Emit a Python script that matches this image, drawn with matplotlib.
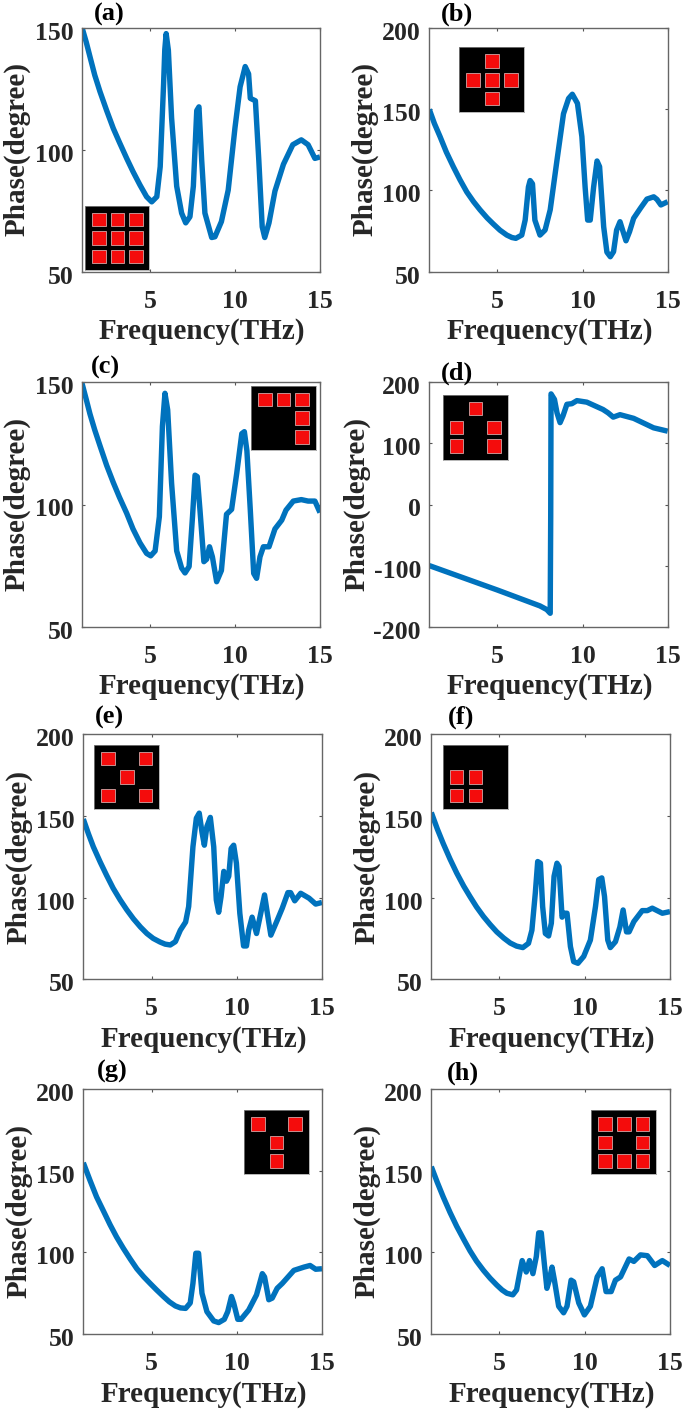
import matplotlib
matplotlib.use("Agg")
import matplotlib.pyplot as plt
from matplotlib.patches import Rectangle
from matplotlib.transforms import ScaledTranslation

W, H = 685, 1409
LINE = "#0072BD"
TXT = "#262626"
plt.rcParams['font.family'] = ['Liberation Serif', 'DejaVu Serif']
plt.rcParams['font.weight'] = 'bold'
plt.rcParams['axes.unicode_minus'] = False

fa = [1,1.25,1.47,1.75,2.06,2.45,2.84,3.2,3.63,4,4.41,4.8,5.1,5.4,5.6,5.8,5.87,5.95,6.08,6.27,6.57,6.86,7.1,7.35,7.55,7.75,7.88,8.04,8.23,8.63,8.82,9.2,9.6,10,10.3,10.6,10.8,10.9,11.2,11.4,11.6,11.75,12,12.35,12.85,13.4,13.9,14.3,14.7,15]
pa = [150,144,138,130.5,123.7,116,108.7,103,96.4,91,85.5,80.7,78.6,80.7,93,127,141,147.5,140.7,113,85,74,70,72.5,85,116,117.5,95.7,74,64,64.3,70.5,83.4,109,125.7,134,131,121,120,95.7,68.4,64,70,83,94,102,104,102,96.4,97]

fb = [1,1.3,1.63,2,2.41,2.8,3.2,3.6,3.98,4.4,4.76,5.15,5.55,5.85,6.08,6.43,6.63,6.82,6.92,7.06,7.2,7.5,7.8,8.1,8.5,8.88,9.18,9.4,9.7,9.96,10.15,10.3,10.45,10.65,10.85,11,11.24,11.43,11.63,11.82,12,12.2,12.35,12.55,12.76,13,13.4,13.78,14.18,14.37,14.6,15]
pb = [149.7,141,133,123.5,114.5,106.5,99,93,88,83,79.3,75.5,72.5,71,70.5,72.5,81.7,102,106,104,81.7,72.5,75.6,88,118.6,147,156.4,159,153.4,133,102,81.7,81.7,102,118,114.5,77.6,62,59.2,62.3,75.6,80.7,75.6,69,74.6,82.8,89,94.6,96,94.4,91,93]

fc = [1,1.25,1.47,1.75,2.06,2.45,2.84,3.2,3.63,4,4.41,4.8,5.04,5.3,5.55,5.73,5.88,6.04,6.27,6.57,6.86,7.06,7.3,7.5,7.65,7.78,7.94,8.17,8.33,8.5,8.67,8.92,9.2,9.5,9.8,10.1,10.4,10.55,10.7,10.9,11.1,11.27,11.47,11.67,12,12.35,12.75,13,13.43,13.9,14.3,14.7,15]
pc = [149.6,143,137,130.5,124,116,109,103,96.4,90,84.3,80,79,81,95,132,145.5,138.7,108.7,81,74,72,74.6,95,112,111.4,97.7,76.6,77.6,82.7,78.6,68.4,73,96,98,112.7,129,129.8,122,97.7,71.8,69.8,78.6,82.7,82.7,90,93.6,97.7,101.4,102,101.4,101.4,96.7]

fd = [1,3,5,7.5,7.9,8.1,8.13,8.15,8.35,8.5,8.68,8.85,9.08,9.37,9.67,10.25,11.2,11.5,11.8,12.2,13,14.17,15]
pd_ = [-100,-120,-140,-166,-172,-178,-19,181,172,150,134,145,164,165,170,167.5,155.5,150,143,147,141,125.5,120]

fe = [1,1.3,1.59,2,2.37,2.75,3.16,3.55,3.94,4.35,4.73,5.1,5.5,5.8,6.1,6.4,6.69,7,7.18,7.43,7.63,7.8,7.96,8.1,8.25,8.45,8.65,8.8,8.94,9.08,9.24,9.4,9.53,9.67,9.82,9.98,10.18,10.4,10.57,10.7,10.9,11.16,11.4,11.63,11.8,12,12.37,12.67,13,13.16,13.4,13.75,14.24,14.63,15]
pe = [148,139,131,121.5,113.5,105.7,98.6,92.5,87,82,78,75,72.8,71.5,71,73,80,85,94.5,131,148.5,151.6,140,132,143.5,149,131,98.6,91,100.6,116,110,113,130,132,121,90.4,70.4,70.4,80,88,78,90,101.6,90,77,86,93.5,103,103,98,102.6,99.6,96,97]

ff = [1,1.35,1.7,2.1,2.49,2.9,3.27,3.65,4.06,4.45,4.84,5.25,5.63,6,6.37,6.7,6.9,7.1,7.24,7.4,7.53,7.69,7.88,8.04,8.2,8.37,8.49,8.67,8.8,8.96,9.16,9.35,9.6,9.94,10.33,10.63,10.82,11,11.16,11.35,11.5,11.8,12.06,12.25,12.45,12.6,12.88,13.37,13.67,13.96,14.55,15]
pf = [152,142,133,123.5,115,107,100.6,94.3,88.4,83.5,79,75.2,72.2,70.3,69.4,72,80,102.7,122,121,94.5,78,76.5,84.3,113,121,119,88,90.4,90.4,70,60.8,59.8,64,74,94.5,111,112,100.6,74,69.4,73,82,92.4,79,79,85.3,92,92,93.5,90.4,91.4]

fg = [1,1.4,1.78,2.2,2.57,2.95,3.35,3.75,4.14,4.55,4.92,5.3,5.7,6.05,6.4,6.7,7,7.27,7.43,7.6,7.76,7.96,8.25,8.65,8.94,9.27,9.47,9.69,9.82,10.06,10.25,10.7,11.16,11.5,11.63,11.88,12.08,12.37,12.67,13.35,13.94,14.3,14.63,15]
pg = [155,144,134,125,117,109.5,102.5,96,90,85,81,77,73,69.7,67.2,66,65.7,69,81,99.5,99.5,75,63.7,58,57,59,63.7,73,69,59,59,64.7,74,87,85,71,72,78,81,89,91,92,89.7,90]

fh = [1,1.35,1.7,2.1,2.49,2.9,3.27,3.65,4.06,4.45,4.84,5.15,5.43,5.78,6,6.18,6.33,6.57,6.76,6.96,7.16,7.3,7.45,7.63,7.78,7.92,8.08,8.22,8.47,8.76,8.96,9.2,9.35,9.65,9.98,10.33,10.73,11.02,11.25,11.55,11.8,12.1,12.6,12.88,13.27,13.67,14.1,14.55,15]
ph = [152.6,143,134,124.5,116,108,101,94.7,89,84.2,80,77,75,74,77,87,95,88,95,87,97.5,112,112,93,78,83,91,83,67,63,67,83,82,69,61.7,67,85,90,76,76,83,85,96,94.5,98.5,98,92,95,92]

names = ['(a)','(b)','(c)','(d)','(e)','(f)','(g)','(h)']
freqs = [fa,fb,fc,fd,fe,ff,fg,fh]
phases = [pa,pb,pc,pd_,pe,pf,pg,ph]
yticks = [[50,100,150],[50,100,150,200],[50,100,150],[-200,-100,0,100,200],
          [50,100,150,200],[50,100,150,200],[50,100,150,200],[50,100,150,200]]
all9 = [(c,r) for r in range(3) for c in range(3)]
cells = [all9,
         [(1,0),(0,1),(1,1),(2,1),(1,2)],
         [(0,0),(1,0),(2,0),(2,1),(2,2)],
         [(1,0),(0,1),(2,1),(0,2),(2,2)],
         [(0,0),(2,0),(1,1),(0,2),(2,2)],
         [(0,1),(1,1),(0,2),(1,2)],
         [(0,0),(2,0),(1,1),(1,2)],
         [c for c in all9 if c != (1,1)]]
# layout in pixels: left, right, top, bottom
boxes = [(82,320,27.5,271.7),(429.3,667.7,27.5,271.7),(82,320,382.3,626.7),(429.3,667.7,382.3,626.7),
         (83.3,322,734,979.3),(431.3,670,734,979.3),(83.3,322,1089.3,1334),(431.3,670,1089.3,1334)]
insets = [(85,149.3,206,270),(459.3,524.3,47.3,112),(250.7,316,385.7,450.3),(442.7,507.7,394.7,459.7),
          (94.3,159,744.7,809),(442.7,507.7,744.7,809),(243.7,308.7,1110,1174.3),(591.3,656,1110,1174.3)]
ylab_xy = [(17,149),(365,149),(17,504),(357,504),(19,857),(367,857),(19,1211),(367,1211)]
name_xy = [(109,14),(457,14),(105,367),(457,373),(109,717),(461,717),(112,1071),(463,1073)]

fig = plt.figure(figsize=(W/100, H/100), dpi=100)

def fx(p): return p/W
def fy(p): return 1-p/H

for i in range(8):
    l,r,t,b = boxes[i]
    ax = fig.add_axes([fx(l), fy(b), (r-l)/W, (b-t)/H])
    ax.plot(freqs[i], phases[i], color=LINE, lw=3.9, solid_joinstyle='round', solid_capstyle='butt')
    ax.set_xlim(1,15)
    ax.set_ylim(yticks[i][0], yticks[i][-1])
    ax.set_xticks([5,10,15])
    ax.set_yticks(yticks[i])
    ax.tick_params(direction='in', length=2, width=0.8, color='#555555', top=True, right=True,
                   labelsize=18.5, labelcolor=TXT)
    ax.tick_params(axis='x', pad=13)
    ax.tick_params(axis='y', pad=6)
    off = ScaledTranslation(0, -3/100, fig.dpi_scale_trans)
    for lab in ax.get_yticklabels():
        lab.set_transform(lab.get_transform()+off)
    for s in ax.spines.values():
        s.set_color('#666666')
        s.set_linewidth(1.0)
    fig.text(fx((l+r)/2+1), fy(b+60), 'Frequency(THz)', ha='center', va='center', fontsize=21, color=TXT)
    x,y = ylab_xy[i]
    fig.text(fx(x), fy(y), 'Phase(degree)', rotation=90, ha='center', va='center', fontsize=21, color=TXT)
    x,y = name_xy[i]
    fig.text(fx(x), fy(y), names[i], ha='center', va='center', fontsize=19, color='black')

    il,ir,it,ib = insets[i]
    ia = fig.add_axes([fx(il), fy(ib), (ir-il)/W, (ib-it)/H], zorder=5)
    ia.set_facecolor('black')
    ia.set_xlim(0,1); ia.set_ylim(1,0)
    ia.set_xticks([]); ia.set_yticks([])
    for s in ia.spines.values():
        s.set_color('#999999'); s.set_linewidth(0.5)
    for c,rw in cells[i]:
        ia.add_patch(Rectangle((0.11+0.288*c, 0.11+0.288*rw), 0.21, 0.21,
                               facecolor='#F40C0C', edgecolor='#C89090', lw=0.7))

fig.savefig('out.png', dpi=100)
